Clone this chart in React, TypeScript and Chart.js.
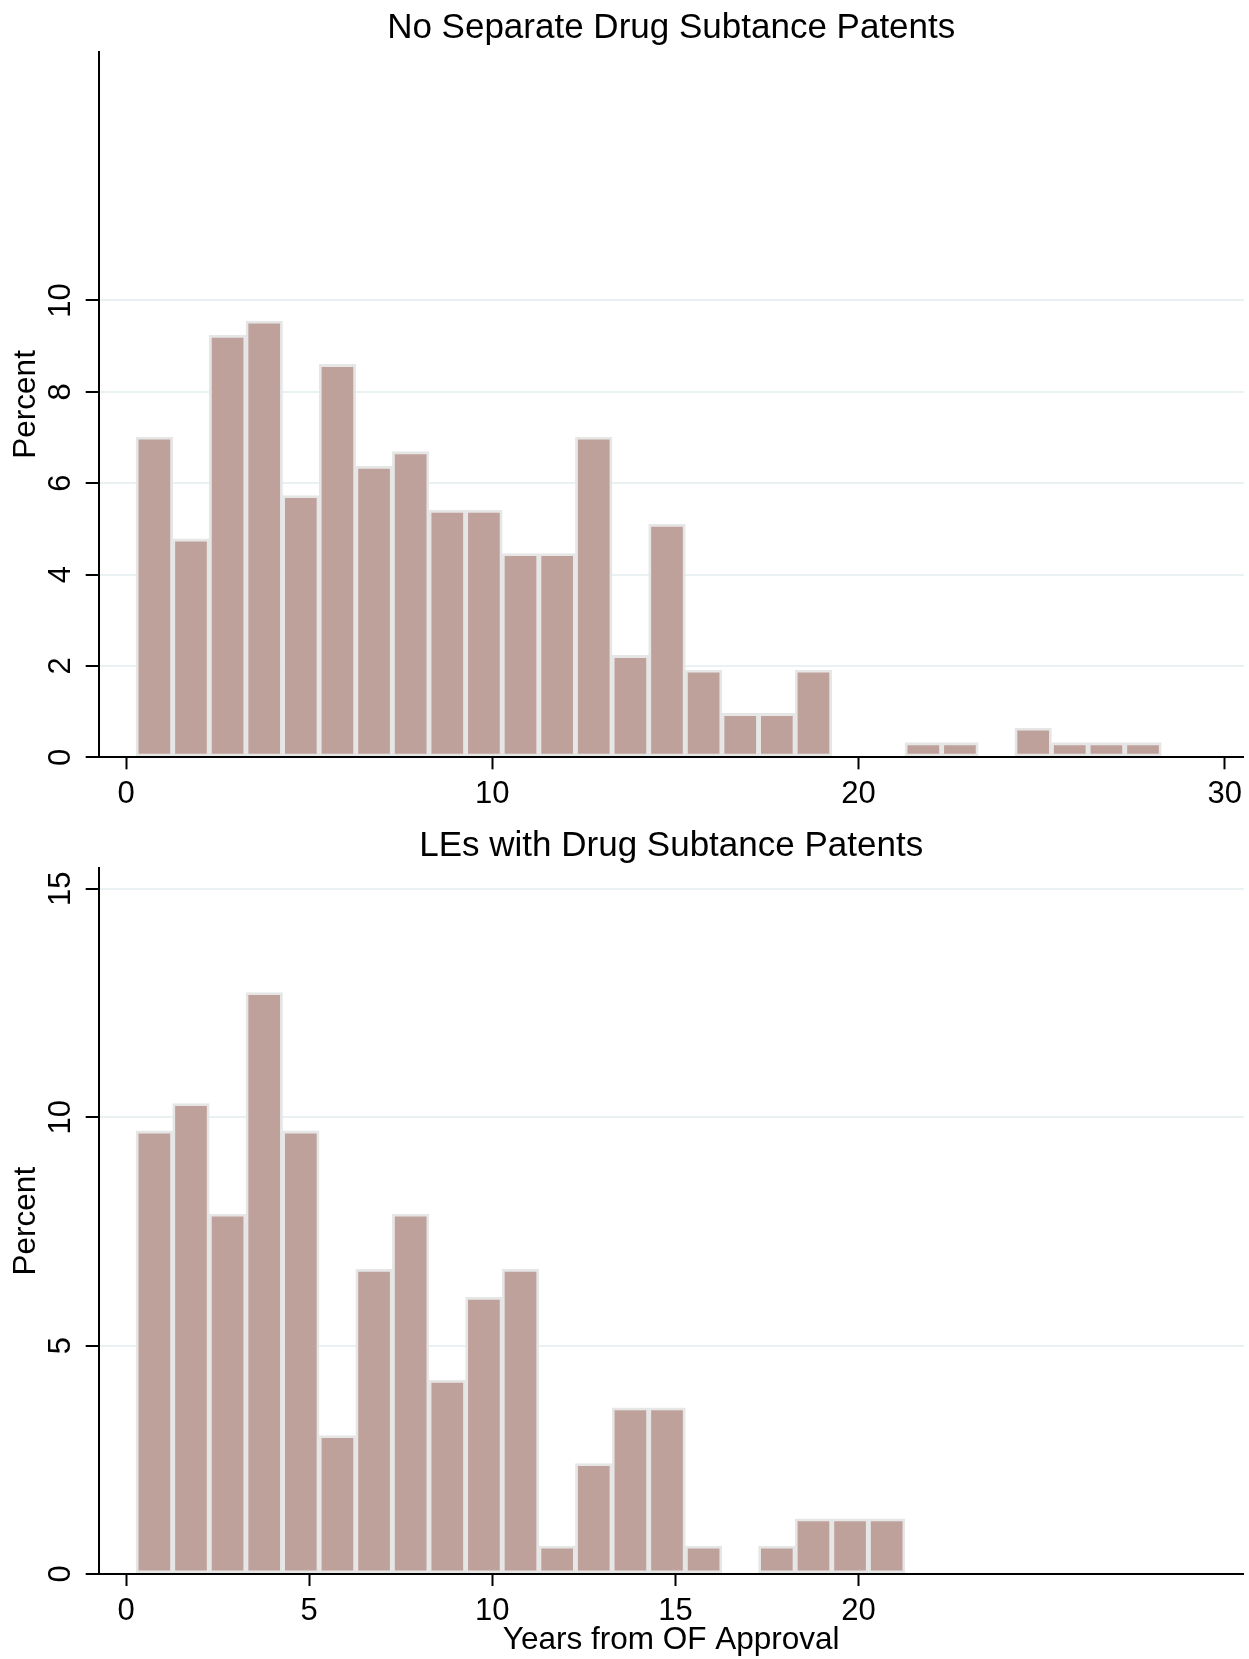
import React, { useEffect, useRef } from 'react';
import { Chart, registerables } from 'chart.js';

Chart.register(...registerables);

const FONT = '"Liberation Sans", Arial, Helvetica, sans-serif';

const TOP_TITLE = 'No Separate Drug Subtance Patents';
const BOTTOM_TITLE = 'LEs with Drug Subtance Patents';
const X_TITLE = 'Years from OF Approval';
const Y_TITLE = 'Percent';

// bin centres (years from OF approval), bins of width 1
const TOP_BIN_CENTERS = [
  0.77, 1.77, 2.77, 3.77, 4.77, 5.77, 6.77, 7.77, 8.77, 9.77,
  10.77, 11.77, 12.77, 13.77, 14.77, 15.77, 16.77, 17.77, 18.77, 19.77,
  20.77, 21.77, 22.77, 23.77, 24.77, 25.77, 26.77, 27.77,
];
const TOP_PERCENT = [
  7.01, 4.78, 9.24, 9.55, 5.73, 8.6, 6.37, 6.69, 5.41, 5.41,
  4.46, 4.46, 7.01, 2.23, 5.1, 1.91, 0.96, 0.96, 1.91, 0,
  0, 0.32, 0.32, 0, 0.64, 0.32, 0.32, 0.32,
];
const TOP_X_TICKS = [0, 10, 20, 30];
const TOP_Y_TICKS = [0, 2, 4, 6, 8, 10];

const BOTTOM_BIN_CENTERS = [
  0.77, 1.77, 2.77, 3.77, 4.77, 5.77, 6.77, 7.77, 8.77, 9.77,
  10.77, 11.77, 12.77, 13.77, 14.77, 15.77, 16.77, 17.77, 18.77, 19.77,
  20.77,
];
const BOTTOM_PERCENT = [
  9.7, 10.3, 7.88, 12.73, 9.7, 3.03, 6.67, 7.88, 4.24, 6.06,
  6.67, 0.61, 2.42, 3.64, 3.64, 0.61, 0, 0.61, 1.21, 1.21,
  1.21,
];
const BOTTOM_X_TICKS = [0, 5, 10, 15, 20];
const BOTTOM_Y_TICKS = [0, 5, 10, 15];

const X_MIN = -0.75;
const X_MAX = 30.52;
const Y_MAX = 15.45;

const W = 1249;
const TOP_H = 815;
const BOTTOM_H = 844;

const BAR_FILL = '#BEA19B';
const BAR_EDGE = '#E6E6E6';
const GRID = '#E9F1F3';
const INK = '#000000';

interface Cfg {
  title: string;
  titlePad: { top: number; bottom: number };
  centers: number[];
  values: number[];
  xTicks: number[];
  yTicks: number[];
  xHeight: number;
  xTitle: boolean;
}

function makeConfig(c: Cfg): any {
  return {
    type: 'bar',
    data: {
      datasets: [
        {
          data: c.centers.map((x, i) => ({ x, y: c.values[i] })),
          backgroundColor: BAR_FILL,
          borderColor: BAR_EDGE,
          borderWidth: 2.8,
          borderSkipped: false,
          barPercentage: 1,
          categoryPercentage: 1,
          grouped: false,
        },
      ],
    },
    options: {
      responsive: false,
      maintainAspectRatio: false,
      animation: false,
      devicePixelRatio: 1,
      layout: { padding: { left: 0, right: 5.3, top: 0, bottom: 0 } },
      plugins: {
        legend: { display: false },
        tooltip: { enabled: false },
        title: {
          display: true,
          text: c.title,
          fullSize: false,
          color: INK,
          font: { family: FONT, size: 35, weight: 'normal', lineHeight: 1.2 },
          padding: c.titlePad,
        },
      },
      scales: {
        x: {
          type: 'linear',
          min: X_MIN,
          max: X_MAX,
          offset: false,
          afterBuildTicks: (s: any) => {
            s.ticks = c.xTicks.map((v) => ({ value: v }));
          },
          afterFit: (s: any) => {
            s.height = c.xHeight;
          },
          grid: {
            display: true,
            offset: false,
            drawOnChartArea: false,
            drawTicks: true,
            tickLength: 12,
            tickColor: INK,
            tickWidth: 2,
          },
          border: { display: true, color: INK, width: 2, z: 1 },
          ticks: {
            color: INK,
            font: { family: FONT, size: 31, lineHeight: 1.2 },
            padding: 6.4,
            minRotation: 0,
            maxRotation: 0,
            autoSkip: false,
          },
          title: {
            display: c.xTitle,
            text: X_TITLE,
            color: INK,
            font: { family: FONT, size: 31.5, lineHeight: 1.2 },
            padding: { top: 0, bottom: 0 },
          },
        },
        y: {
          type: 'linear',
          min: 0,
          max: Y_MAX,
          afterBuildTicks: (s: any) => {
            s.ticks = c.yTicks.map((v) => ({ value: v }));
          },
          afterFit: (s: any) => {
            s.width = 98.7;
          },
          grid: {
            display: true,
            color: GRID,
            lineWidth: 2,
            drawTicks: true,
            tickLength: 13,
            tickColor: INK,
            tickWidth: 2,
          },
          border: { display: true, color: INK, width: 2, z: 1 },
          ticks: {
            color: INK,
            font: { family: FONT, size: 31, lineHeight: 1.2 },
            padding: 7.2,
            minRotation: 90,
            maxRotation: 90,
            crossAlign: 'center',
            autoSkip: false,
          },
          title: {
            display: true,
            text: Y_TITLE,
            color: INK,
            font: { family: FONT, size: 31.5, lineHeight: 1.2 },
            padding: { top: 7.5, bottom: 0 },
          },
        },
      },
    },
  };
}

export default function App() {
  const topRef = useRef<HTMLCanvasElement | null>(null);
  const botRef = useRef<HTMLCanvasElement | null>(null);

  useEffect(() => {
    const charts: Chart[] = [];
    if (topRef.current) {
      charts.push(
        new Chart(
          topRef.current,
          makeConfig({
            title: TOP_TITLE,
            titlePad: { top: 7.5, bottom: 2 },
            centers: TOP_BIN_CENTERS,
            values: TOP_PERCENT,
            xTicks: TOP_X_TICKS,
            yTicks: TOP_Y_TICKS,
            xHeight: TOP_H - 757.3,
            xTitle: false,
          })
        )
      );
    }
    if (botRef.current) {
      charts.push(
        new Chart(
          botRef.current,
          makeConfig({
            title: BOTTOM_TITLE,
            titlePad: { top: 10.7, bottom: 0.6 },
            centers: BOTTOM_BIN_CENTERS,
            values: BOTTOM_PERCENT,
            xTicks: BOTTOM_X_TICKS,
            yTicks: BOTTOM_Y_TICKS,
            xHeight: 85,
            xTitle: true,
          })
        )
      );
    }
    return () => {
      charts.forEach((ch) => ch.destroy());
    };
  }, []);

  return (
    <div
      style={{
        position: 'absolute',
        left: 0,
        top: 0,
        width: W,
        height: TOP_H + BOTTOM_H,
        background: '#ffffff',
        overflow: 'hidden',
      }}
    >
      <canvas
        ref={topRef}
        width={W}
        height={TOP_H}
        style={{ position: 'absolute', left: 0, top: 0, width: W, height: TOP_H, display: 'block' }}
      />
      <canvas
        ref={botRef}
        width={W}
        height={BOTTOM_H}
        style={{ position: 'absolute', left: 0, top: TOP_H, width: W, height: BOTTOM_H, display: 'block' }}
      />
    </div>
  );
}
